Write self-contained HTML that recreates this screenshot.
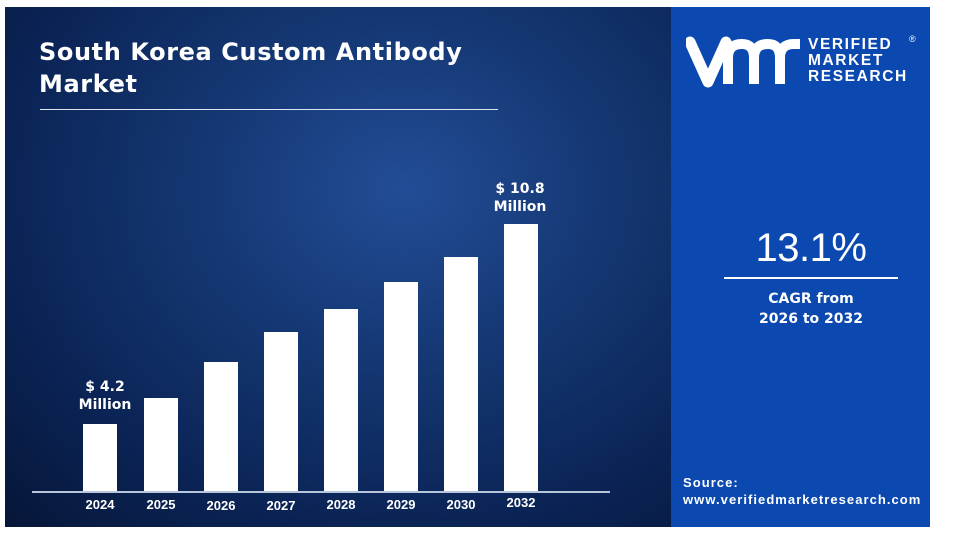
<!DOCTYPE html>
<html><head><style>
body{margin:0;width:954px;height:543px;background:#fff;position:relative;overflow:hidden;font-family:"Liberation Sans",sans-serif;color:#fff}
.a{position:absolute}
#left{left:5px;top:7px;width:666px;height:520px;background:radial-gradient(ellipse at 60% 35%,#224d96 0%,#153874 35%,#0b2456 70%,#061638 100%)}
#right{left:671px;top:7px;width:259px;height:520px;background:#0b49b0}
.bar{position:absolute;background:#fff;width:34px;bottom:51px}
.yr{position:absolute;top:497px;font-size:13px;font-weight:bold;width:50px;text-align:center}
.lbl{position:absolute;font-size:14px;font-weight:bold;text-align:center;line-height:18px;font-family:"DejaVu Sans",sans-serif}
</style></head><body>
<div id="left" class="a"></div>
<div id="right" class="a"></div>
<div class="a" style="left:39px;top:36px;font-size:24px;font-weight:bold;line-height:32px;font-family:'DejaVu Sans',sans-serif;letter-spacing:0.6px">South Korea Custom Antibody<br>Market</div>
<div class="a" style="left:40px;top:109px;width:458px;height:1px;background:#dfe6f2"></div>
<div class="bar" style="left:83px;top:424px"></div>
<div class="bar" style="left:144px;top:398px"></div>
<div class="bar" style="left:204px;top:362px"></div>
<div class="bar" style="left:264px;top:332px"></div>
<div class="bar" style="left:324px;top:309px"></div>
<div class="bar" style="left:384px;top:282px"></div>
<div class="bar" style="left:444px;top:257px"></div>
<div class="bar" style="left:504px;top:224px"></div>
<div class="a" style="left:32px;top:491px;width:578px;height:2px;background:#b8c6dc"></div>
<div class="yr" style="left:75px">2024</div>
<div class="yr" style="left:136px">2025</div>
<div class="yr" style="left:196px;top:498px">2026</div>
<div class="yr" style="left:256px;top:498px">2027</div>
<div class="yr" style="left:316px">2028</div>
<div class="yr" style="left:376px">2029</div>
<div class="yr" style="left:436px">2030</div>
<div class="yr" style="left:496px;top:495px">2032</div>
<div class="lbl" style="left:65px;top:378px;width:80px">$ 4.2<br>Million</div>
<div class="lbl" style="left:480px;top:180px;width:80px">$ 10.8<br>Million</div>
<svg class="a" style="left:686px;top:36px" width="120" height="54" viewBox="0 0 120 54">
<path d="M4 6 L22 46 L40 6" stroke="#fff" stroke-width="11" fill="none" stroke-linejoin="round" stroke-linecap="round"/>
<path d="M42 48 V22 Q42 8 56 8 Q68 8 68 22 V48 M68 22 Q68 8 82 8 Q94 8 94 22 V48 M94 22 Q94 8 108 8 H114" stroke="#fff" stroke-width="10" fill="none"/>
</svg>
<div class="a" style="left:808px;top:37px;font-size:15.5px;font-weight:bold;letter-spacing:1.6px;line-height:16px">VERIFIED<br>MARKET<br>RESEARCH</div>
<div class="a" style="left:909px;top:34px;font-size:9px">®</div>
<div class="a" style="left:724px;top:226px;width:174px;text-align:center;font-size:40px;letter-spacing:-0.5px">13.1%</div>
<div class="a" style="left:724px;top:277px;width:174px;height:2px;background:#fff"></div>
<div class="a" style="left:714px;top:289px;width:194px;text-align:center;font-size:14px;font-weight:bold;line-height:20px;font-family:'DejaVu Sans',sans-serif">CAGR from<br>2026 to 2032</div>
<div class="a" style="left:683px;top:474px;font-size:13px;font-weight:bold;line-height:17px;letter-spacing:1.05px">Source:<br>www.verifiedmarketresearch.com</div>
</body></html>
